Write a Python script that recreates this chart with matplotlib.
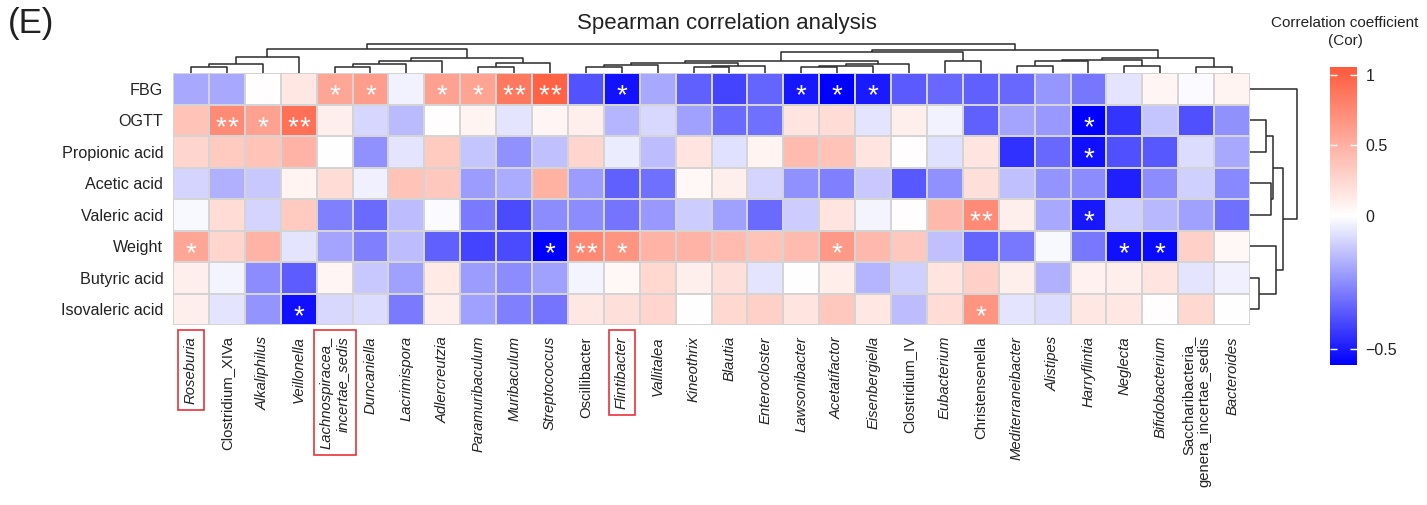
import numpy as np
import matplotlib
matplotlib.use("Agg")
import matplotlib.pyplot as plt
from matplotlib.colors import LinearSegmentedColormap, TwoSlopeNorm

plt.rcParams["font.family"] = ["Liberation Sans", "DejaVu Sans"]

# --- data -------------------------------------------------------------------
rows = ["FBG", "OGTT", "Propionic acid", "Acetic acid", "Valeric acid",
        "Weight", "Butyric acid", "Isovaleric acid"]

genera = ["Roseburia", "Clostridium_XIVa", "Alkaliphilus", "Veillonella",
          "Lachnospiracea_\nincertae_sedis", "Duncaniella", "Lacrimispora",
          "Adlercreutzia", "Paramuribaculum", "Muribaculum", "Streptococcus",
          "Oscillibacter", "Flintibacter", "Vallitalea", "Kineothrix", "Blautia",
          "Enterocloster", "Lawsonibacter", "Acetatifactor", "Eisenbergiella",
          "Clostridium_IV", "Eubacterium", "Christensenella",
          "Mediterraneibacter", "Alistipes", "Harryflintia", "Neglecta",
          "Bifidobacterium", "Saccharibacteria_\ngenera_incertae_sedis",
          "Bacteroides"]

# labels set upright (not italic)
upright = {"Clostridium_XIVa", "Oscillibacter", "Clostridium_IV",
           "Christensenella", "Saccharibacteria_\ngenera_incertae_sedis"}
# labels highlighted with a red frame
boxed = {"Roseburia", "Lachnospiracea_\nincertae_sedis", "Flintibacter"}

cor_fbg = [-0.19, -0.19, 0.01, 0.15, 0.56, 0.62, -0.03, 0.60, 0.58, 0.85,
           1.00, -0.38, -0.52, -0.19, -0.35, -0.41, -0.34, -0.51, -0.56, -0.50,
           -0.36, -0.33, -0.35, -0.33, -0.23, -0.30, -0.06, 0.06, -0.01, 0.07]
cor_ogtt = [0.38, 0.74, 0.60, 0.91, 0.10, -0.09, -0.15, 0.01, 0.07, -0.06,
            0.06, 0.10, -0.165, -0.086, -0.21, -0.327, -0.314, 0.17, 0.22, -0.06,
            0.10, -0.03, -0.35, -0.20, -0.226, -0.56, -0.444, -0.13, -0.384, -0.244]
cor_propionic = [0.27, 0.33, 0.38, 0.48, 0.00, -0.244, -0.059, 0.33, -0.13, -0.244,
                 -0.138, 0.27, -0.042, -0.147, 0.17, -0.068, 0.07, 0.43, 0.38, 0.17,
                 0.01, -0.068, 0.17, -0.455, -0.33, -0.525, -0.384, -0.367, -0.077, -0.19]
cor_acetic = [-0.094, -0.173, -0.121, 0.07, 0.22, -0.033, 0.38, 0.35, -0.217, -0.182,
              0.50, -0.217, -0.35, -0.314, 0.045, 0.10, -0.094, -0.244, -0.279, -0.121,
              -0.367, -0.244, 0.20, -0.138, -0.235, -0.253, -0.49, -0.253, -0.103, -0.26]
cor_valeric = [-0.015, 0.22, -0.094, 0.33, -0.279, -0.327, -0.147, -0.01, -0.292, -0.397,
               -0.253, -0.253, -0.305, -0.226, -0.112, -0.209, -0.327, -0.112, 0.17, -0.024,
               0.01, 0.45, 0.74, 0.10, -0.191, -0.507, -0.103, -0.156, -0.209, -0.314]
cor_weight = [0.56, 0.27, 0.48, -0.059, -0.20, -0.279, -0.147, -0.349, -0.41, -0.397,
              -0.56, 0.75, 0.68, 0.48, 0.48, 0.43, 0.38, 0.43, 0.65, 0.45,
              0.35, -0.138, -0.338, -0.296, -0.015, -0.296, -0.525, -0.534, 0.30, 0.045]
cor_butyric = [0.10, -0.024, -0.253, -0.355, 0.058, -0.121, -0.209, 0.134, -0.217, -0.253,
               -0.209, -0.024, 0.045, 0.25, 0.10, 0.20, -0.059, 0.00, 0.11, -0.165,
               -0.103, 0.17, 0.30, 0.10, -0.173, 0.083, 0.10, 0.17, -0.059, -0.033]
cor_isovaleric = [0.10, -0.059, -0.235, -0.525, -0.086, -0.077, -0.292, 0.10, -0.209, -0.279,
                  -0.305, 0.15, 0.20, 0.27, 0.00, 0.25, 0.30, 0.17, 0.35, 0.15,
                  -0.147, 0.22, 0.68, -0.059, -0.077, 0.15, 0.15, 0.01, 0.25, 0.00]

# significance marks: {row index: {column index: mark}}
stars = {
    0: {4: "*", 5: "*", 7: "*", 8: "*", 9: "**", 10: "**", 12: "*", 17: "*", 18: "*", 19: "*"},
    1: {1: "**", 2: "*", 3: "**", 25: "*"},
    2: {25: "*"},
    4: {22: "**", 25: "*"},
    5: {0: "*", 10: "*", 11: "**", 12: "*", 18: "*", 26: "*", 27: "*"},
    7: {3: "*", 22: "*"},
}

# hierarchical clustering (leaf a, leaf/node b, height); new nodes numbered after leaves
col_merges = [(0, 1, 5.7), (30, 2, 9.0), (31, 3, 15.7), (4, 5, 5.7), (33, 6, 9.0),
              (34, 7, 12.3), (8, 9, 5.7), (36, 10, 9.7), (35, 37, 15.0), (32, 38, 24.0),
              (11, 12, 5.7), (40, 13, 8.0), (14, 15, 5.7), (42, 16, 6.7), (41, 43, 10.0),
              (17, 18, 5.7), (45, 19, 6.7), (46, 20, 8.7), (44, 47, 12.3), (21, 22, 12.3),
              (48, 49, 20.7), (23, 24, 6.7), (51, 25, 11.7), (26, 27, 6.7), (52, 53, 13.3),
              (28, 29, 5.7), (54, 55, 14.7), (50, 56, 23.3), (39, 57, 29.0)]
row_merges = [(1, 2, 16), (3, 4, 21), (8, 9, 23), (6, 7, 9), (5, 11, 26),
              (10, 12, 33), (0, 13, 47)]

cor = np.array([cor_fbg, cor_ogtt, cor_propionic, cor_acetic, cor_valeric,
                cor_weight, cor_butyric, cor_isovaleric])


def dendro_segments(merges, n_leaves):
    pos = {i: i + 0.5 for i in range(n_leaves)}
    hgt = {i: 0.0 for i in range(n_leaves)}
    segs = []
    for k, (a, b, h) in enumerate(merges):
        node = n_leaves + k
        segs.append(([pos[a], pos[a], pos[b], pos[b]], [hgt[a], h, h, hgt[b]]))
        pos[node] = (pos[a] + pos[b]) / 2
        hgt[node] = h
    return segs


W, H = 1427, 505
fig = plt.figure(figsize=(W / 100, H / 100), dpi=100)


def px_axes(x0, y0, x1, y1):
    return fig.add_axes([x0 / W, 1 - y1 / H, (x1 - x0) / W, (y1 - y0) / H])


cmap = LinearSegmentedColormap.from_list("cor", ["#0000FF", "#FFFFFF", "#FF5A3C"])
norm = TwoSlopeNorm(vmin=-0.56, vcenter=0.0, vmax=1.054)
ink = "#222222"

# heatmap
ax = px_axes(173, 73, 1250, 325)
mesh = ax.pcolormesh(cor, cmap=cmap, norm=norm, edgecolors="#d4d4d4", linewidth=1.2)
ax.set_xlim(0, len(genera))
ax.set_ylim(len(rows), 0)
for s in ax.spines.values():
    s.set_visible(False)
for i, marks in stars.items():
    for j, m in marks.items():
        offsets = [0.0] if len(m) == 1 else [-0.17, 0.17]
        for dx in offsets:
            ax.text(j + 0.5 + dx, i + 0.74, "*", color="white", ha="center",
                    va="center", fontsize=20)

ax.set_yticks(np.arange(len(rows)) + 0.5)
ax.set_yticklabels(rows, fontsize=11.6, color=ink)
ax.set_xticks(np.arange(len(genera)) + 0.5)
ax.set_xticklabels(genera, rotation=90, fontsize=10.7, color=ink,
                   ha="center", va="top", multialignment="right")
ax.tick_params(length=0)
ax.tick_params(axis="y", pad=7)
ax.tick_params(axis="x", pad=8)
for lbl in ax.get_xticklabels():
    name = lbl.get_text()
    lbl.set_fontstyle("normal" if name in upright else "italic")
    if name in boxed:
        lbl.set_bbox(dict(boxstyle="square,pad=0.4", fc="none", ec="#e8343a", lw=1.2))

# column dendrogram
axt = px_axes(173, 40, 1250, 73)
for xs, ys in dendro_segments(col_merges, len(genera)):
    axt.plot(xs, ys, color="#2b2b2b", lw=1.1, solid_capstyle="butt")
axt.set_xlim(0, len(genera))
axt.set_ylim(0, 33)
axt.axis("off")

# row dendrogram
axr = px_axes(1250, 73, 1300, 325)
for ys, xs in dendro_segments(row_merges, len(rows)):
    axr.plot(xs, ys, color="#2b2b2b", lw=1.1, solid_capstyle="butt")
axr.set_xlim(0, 50)
axr.set_ylim(len(rows), 0)
axr.axis("off")

# colour key
cax = px_axes(1330, 67, 1357, 365)
cb = fig.colorbar(mesh, cax=cax, ticks=[1, 0.5, 0, -0.5])
cb.outline.set_visible(False)
cb.ax.set_yticklabels(["1", "0.5", "0", "\u22120.5"], fontsize=11.5, color=ink)
cb.ax.tick_params(direction="in", colors="white", left=True, right=True,
                  length=5, width=1, labelcolor=ink, pad=6)
fig.text(1345 / W, 1 - 32 / H, "Correlation coefficient\n(Cor)", ha="center",
         va="center", fontsize=11, color=ink, linespacing=1.3)

fig.text(727 / W, 1 - 24 / H, "Spearman correlation analysis", ha="center",
         va="center", fontsize=16, color=ink)
fig.text(8 / W, 1 - 24 / H, "(E)", ha="left", va="center", fontsize=25, color=ink)

fig.savefig("out.png", dpi=100, facecolor="white")
